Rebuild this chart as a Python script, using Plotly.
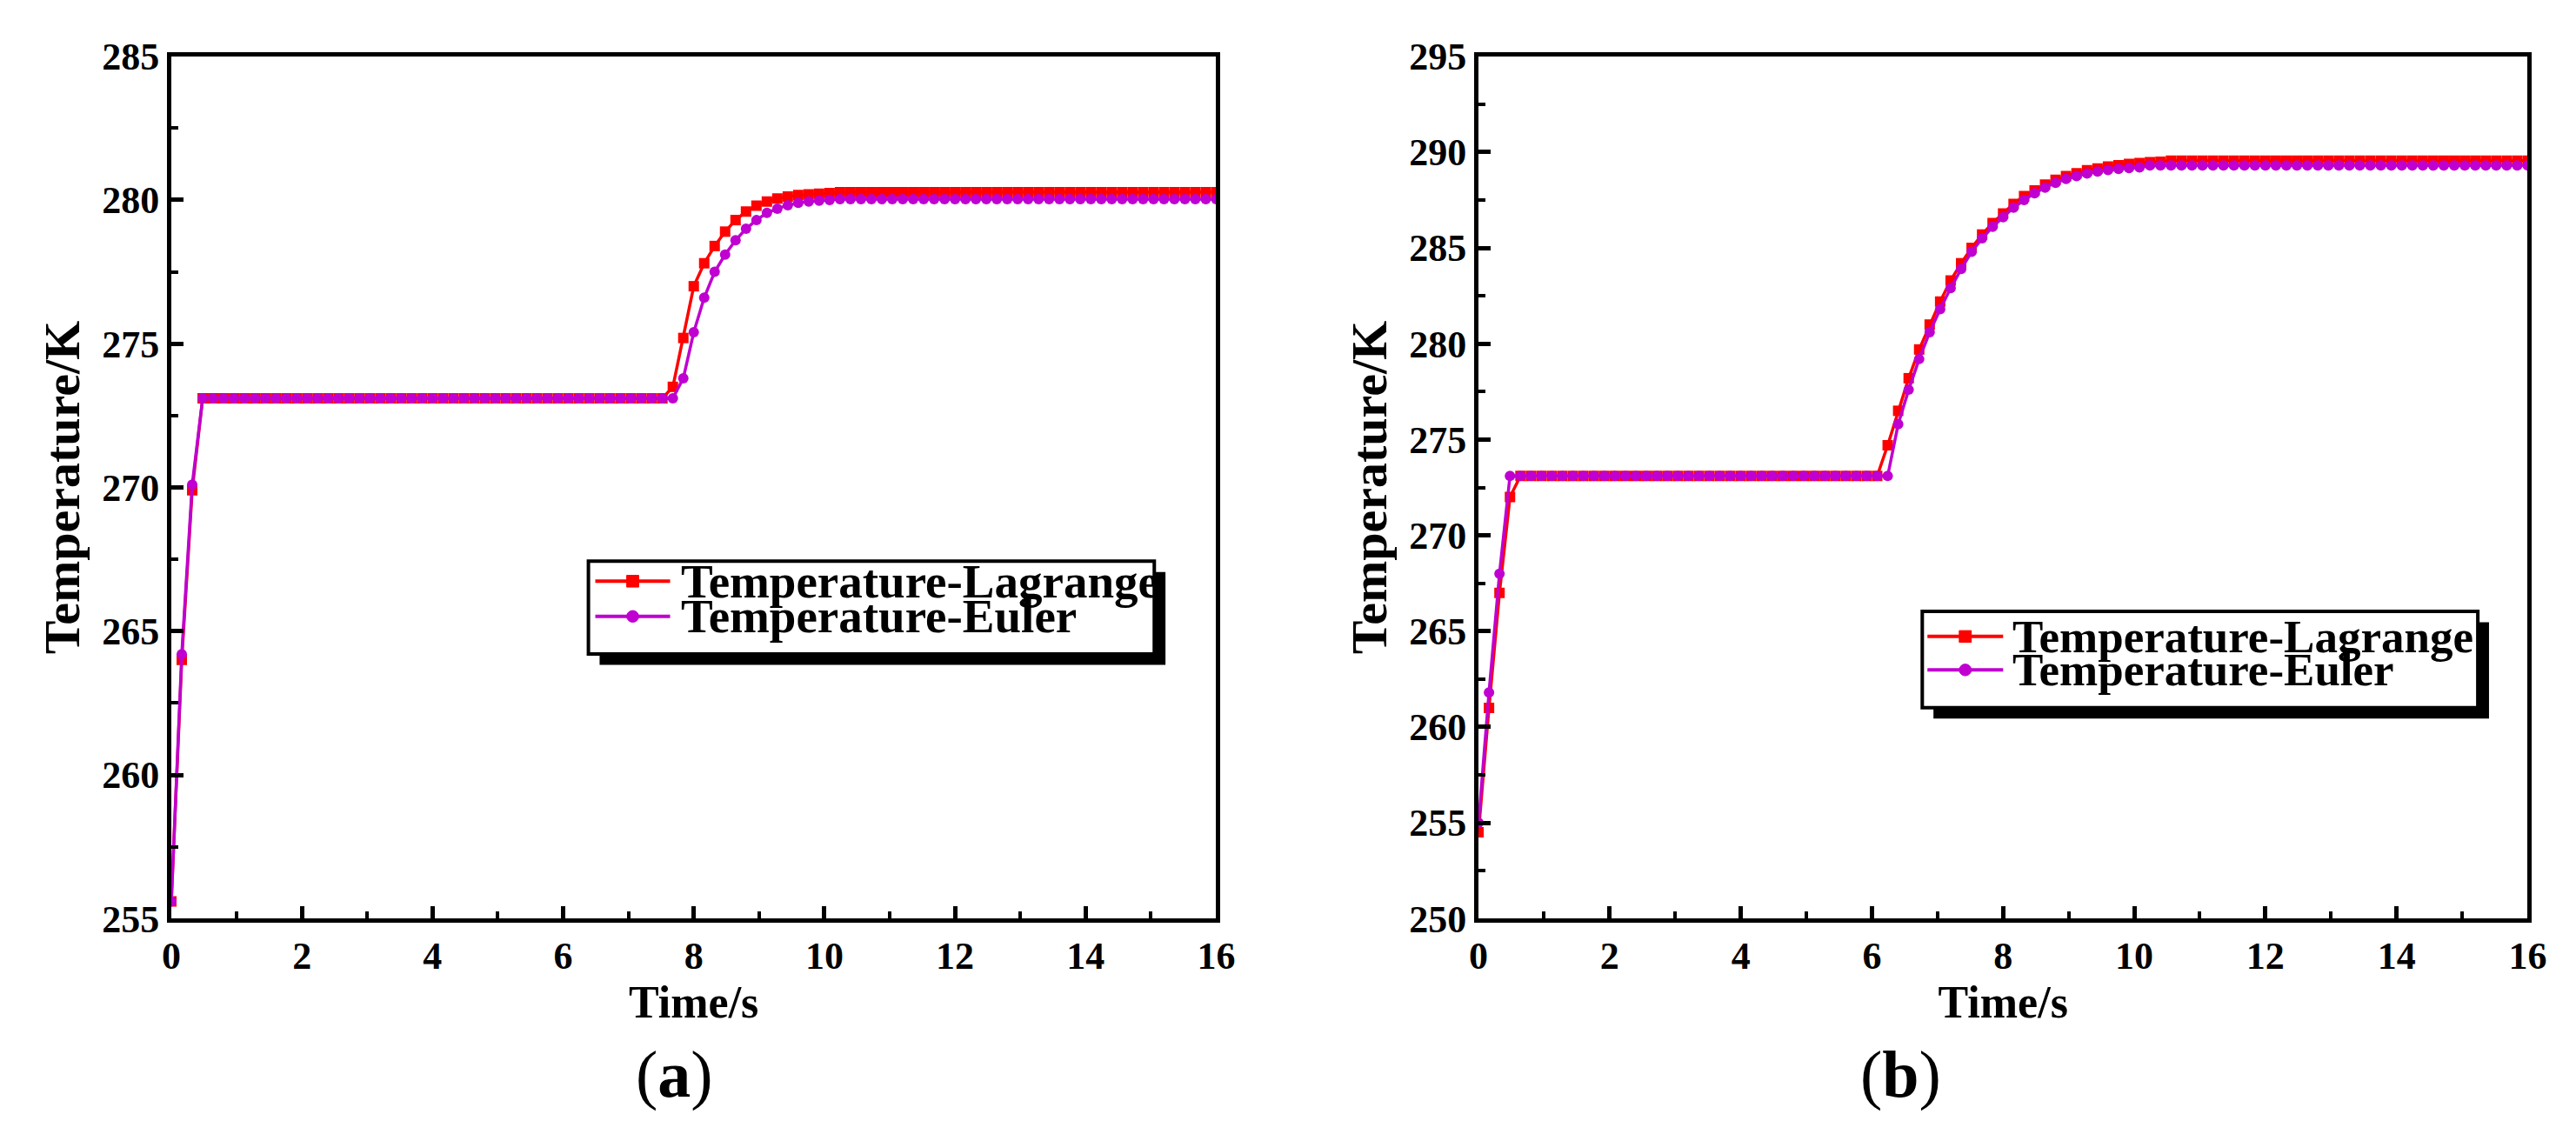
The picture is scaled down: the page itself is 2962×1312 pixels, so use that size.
import plotly.graph_objects as go

W, H = 2962, 1312
t = [round(i * 0.16, 2) for i in range(101)]

# Panel (a)
lag_a_head = [255.6, 264.0, 269.9]
lag_a_rise = [273.5, 275.2, 277.0, 277.8, 278.4, 278.9, 279.3, 279.6, 279.8, 279.95,
              280.05, 280.12, 280.17, 280.2, 280.22, 280.24]
eul_a_head = [255.6, 264.2, 270.1]
eul_a_rise = [273.8, 275.4, 276.6, 277.5, 278.1, 278.6, 279.0, 279.3, 279.55, 279.7,
              279.82, 279.9, 279.95, 279.98, 280.0]
# Panel (b)
lag_b_head = [254.5, 261.0, 267.0, 272.0]
lag_b_rise = [274.7, 276.5, 278.2, 279.7, 281.0, 282.2, 283.3, 284.2, 285.0, 285.7,
              286.3, 286.8, 287.3, 287.7, 288.0, 288.3, 288.55, 288.75, 288.9, 289.05,
              289.15, 289.25, 289.32, 289.38, 289.43, 289.47, 289.5]
eul_b_head = [255.0, 261.8, 268.0]
eul_b_rise = [275.8, 277.6, 279.2, 280.6, 281.8, 282.9, 283.9, 284.8, 285.5, 286.1,
              286.6, 287.1, 287.5, 287.85, 288.15, 288.4, 288.6, 288.75, 288.88, 288.98,
              289.06, 289.12, 289.17, 289.2]
series_names = ["Temperature-Lagrange", "Temperature-Euler"]

def build(head, plateau_end, rise, final):
    n_plat = int(round(plateau_end / 0.16)) + 1 - len(head)
    vals = head + [273.1] * n_plat + rise
    return vals + [final] * (101 - len(vals))

lag_a = build(lag_a_head, 7.52, lag_a_rise, 280.27)
eul_a = build(eul_a_head, 7.68, eul_a_rise, 280.03)
lag_b = build(lag_b_head, 6.08, lag_b_rise, 289.55)
eul_b = build(eul_b_head, 6.24, eul_b_rise, 289.3)

RED, PUR = "#ff0000", "#bf00d0"
FONT = "Liberation Serif"
fig = go.Figure()
for xa, ya, l, e in [("x", "y", lag_a, eul_a), ("x2", "y2", lag_b, eul_b)]:
    fig.add_trace(go.Scatter(x=t, y=l, xaxis=xa, yaxis=ya, name=series_names[0], showlegend=False,
                             mode="lines+markers", line=dict(color=RED, width=3.5),
                             marker=dict(symbol="square", size=12, color=RED)))
    fig.add_trace(go.Scatter(x=t, y=e, xaxis=xa, yaxis=ya, name=series_names[1], showlegend=False,
                             mode="lines+markers", line=dict(color=PUR, width=3.5),
                             marker=dict(symbol="circle", size=12, color=PUR)))

ax_common = dict(showline=True, linewidth=5, linecolor="black", mirror=True,
                 ticks="inside", ticklen=14, tickwidth=5, tickcolor="black",
                 showgrid=False, zeroline=False,
                 tickfont=dict(family=FONT, size=44, color="black", weight="bold"))
xt_font = dict(family=FONT, size=52, color="black", weight="bold")
yt_font = dict(family=FONT, size=58, color="black", weight="bold")
minor_x = dict(ticks="inside", ticklen=8, tickwidth=4, tickcolor="black", dtick=1)
minor_y = dict(ticks="inside", ticklen=8, tickwidth=4, tickcolor="black", dtick=2.5)
ydom = [1 - 1064 / H, 1 - 34 / H]
fig.update_layout(
    width=W, height=H, margin=dict(l=0, r=0, t=0, b=0),
    plot_bgcolor="white", paper_bgcolor="white",
    xaxis=dict(domain=[180 / W, 1395 / W], range=[0, 16], dtick=2, minor=minor_x,
               title=dict(text="Time/s", font=xt_font, standoff=5), **ax_common),
    yaxis=dict(domain=ydom, range=[255, 285], dtick=5, minor=minor_y,
               title=dict(text="Temperature/K", font=yt_font, standoff=8), **ax_common),
    xaxis2=dict(domain=[1700 / W, 2920 / W], range=[0, 16], dtick=2, anchor="y2", minor=minor_x,
                title=dict(text="Time/s", font=xt_font, standoff=5), **ax_common),
    yaxis2=dict(domain=ydom, range=[250, 295], dtick=5, anchor="x2", minor=minor_y,
                title=dict(text="Temperature/K", font=yt_font, standoff=8), **ax_common),
)

# manual legends: (box x0, y0, x1, y1, row1 y, row2 y, line x0, line x1, text x, font size)
legs = [(665, 637, 1323, 748, 661, 703, 673, 760, 771, 55),
        (2216, 697, 2862, 812, 727, 767, 2222, 2310, 2319, 53)]
off = 13
def px(x): return x / W
def py(y): return 1 - y / H
for (x0, y0, x1, y1, r1, r2, lx0, lx1, tx, fs) in legs:
    fig.add_shape(type="rect", xref="paper", yref="paper",
                  x0=px(x0 + off), x1=px(x1 + off), y0=py(y1 + off), y1=py(y0 + off),
                  fillcolor="black", line=dict(width=0))
    fig.add_shape(type="rect", xref="paper", yref="paper",
                  x0=px(x0), x1=px(x1), y0=py(y1), y1=py(y0),
                  fillcolor="white", line=dict(color="black", width=4))
    for ry, col, sym, nm in [(r1, RED, "rect", series_names[0]), (r2, PUR, "circle", series_names[1])]:
        fig.add_shape(type="line", xref="paper", yref="paper",
                      x0=px(lx0), x1=px(lx1), y0=py(ry), y1=py(ry), line=dict(color=col, width=4))
        mx = (lx0 + lx1) / 2
        fig.add_shape(type=sym, xref="paper", yref="paper",
                      x0=px(mx - 7), x1=px(mx + 7), y0=py(ry + 7), y1=py(ry - 7),
                      fillcolor=col, line=dict(color=col, width=1))
        fig.add_annotation(text=nm, xref="paper", yref="paper", x=px(tx), y=py(ry),
                           xanchor="left", yanchor="middle", showarrow=False,
                           font=dict(family=FONT, size=fs, color="black", weight="bold"))

for txt, xc in [("(<b>a</b>)", 718), ("(<b>b</b>)", 2240)]:
    fig.add_annotation(text=txt, xref="paper", yref="paper", x=xc / W, y=1 - 1250 / H,
                       yanchor="middle", showarrow=False, font=dict(family=FONT, size=76, color="black"))

fig.write_html("out.html")
